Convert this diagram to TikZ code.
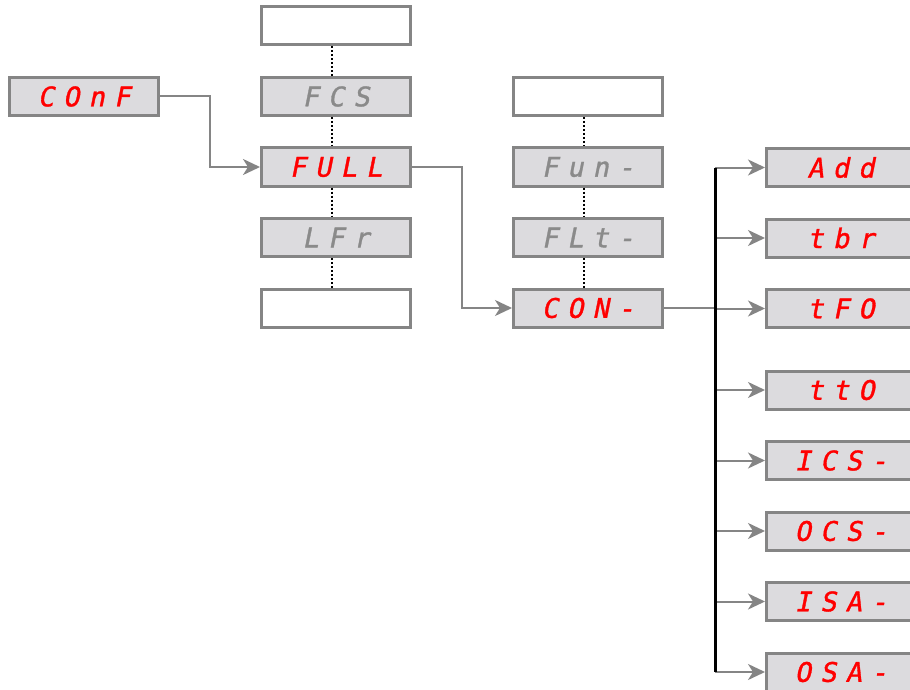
\documentclass[tikz,border=0pt]{standalone}
\usepackage{fontspec}
\usepackage{xcolor}
\usetikzlibrary{arrows.meta,positioning}
\newfontfamily\segfont[FakeSlant=0.2,FakeBold=1.2,LetterSpace=34]{DejaVu Sans Mono}
\definecolor{frame}{HTML}{858585}
\definecolor{panel}{HTML}{DCDBDE}
\definecolor{segred}{HTML}{FF0000}
\definecolor{seggray}{HTML}{8A8A8A}
\tikzset{
  display/.style={rectangle,draw=frame,line width=3pt,fill=panel,
    minimum width=149pt,minimum height=38pt,inner sep=0pt,
    font=\segfont\fontsize{27pt}{27pt}\selectfont,text=segred},
  idle/.style={display,text=seggray},
  blank/.style={display,fill=white},
  arrow/.style={-{Stealth[length=17pt,width=16pt,inset=5pt]},line width=2pt,draw=frame},
  link/.style={line width=2pt,draw=frame},
  trunk/.style={line width=3pt,draw=black},
  dots/.style={line width=2.5pt,dash pattern=on 2pt off 2pt,draw=black}
}
\begin{document}
\begin{tikzpicture}[x=1pt,y=-1pt,node distance=29.5pt]
\useasboundingbox (0,0) rectangle (910,690);
\clip (0,0) rectangle (910,690);
\fill[white] (0,0) rectangle (910,690);
% entry
\node[display] (conf) at (84,96.5) {COnF};
% second level
\node[blank] (blankA) at (336,26) {};
\node[idle,below=of blankA] (fcs) {FCS};
\node[display,below=of fcs] (full) {FULL};
\node[idle,below=of full] (lfr) {LFr};
\node[blank,below=of lfr] (blankB) {};
% third level
\node[blank] (blankC) at (588,96.5) {};
\node[idle,below=of blankC] (fun) {Fun-};
\node[idle,below=of fun] (flt) {FLt-};
\node[display,below=of flt] (con) {CON-};
% fourth level
\node[display] (add) at (841,167.5) {Add};
\node[display,below=of add] (tbr) {tbr};
\node[display,below=of tbr] (tfo) {tFO};
\node[display,below=40.5pt of tfo] (tto) {ttO};
\node[display,below=of tto] (ics) {ICS-};
\node[display,below=of ics] (ocs) {OCS-};
\node[display,below=of ocs] (isa) {ISA-};
\node[display,below=of isa] (osa) {OSA-};
% dotted scroll lines
\foreach \a/\b in {blankA/fcs,fcs/full,full/lfr,lfr/blankB,blankC/fun,fun/flt,flt/con}
  \draw[dots] ([xshift=-4pt]\a.south) -- ([xshift=-4pt]\b.north);
% connectors
\draw[arrow] (conf.east) -- ++(50,0) |- (full.west);
\draw[arrow] (full.east) -- ++(50,0) |- (con.west);
\coordinate (bustop) at (715,167.5);
\coordinate (busend) at (715,671.5);
\draw[link] (con.east) -- (con.east -| bustop);
\foreach \n in {add,tbr,tfo,tto,ics,ocs,isa,osa}
  \draw[arrow] (\n.west -| bustop) -- (\n.west);
\draw[trunk] (bustop) -- (busend);
\end{tikzpicture}
\end{document}
